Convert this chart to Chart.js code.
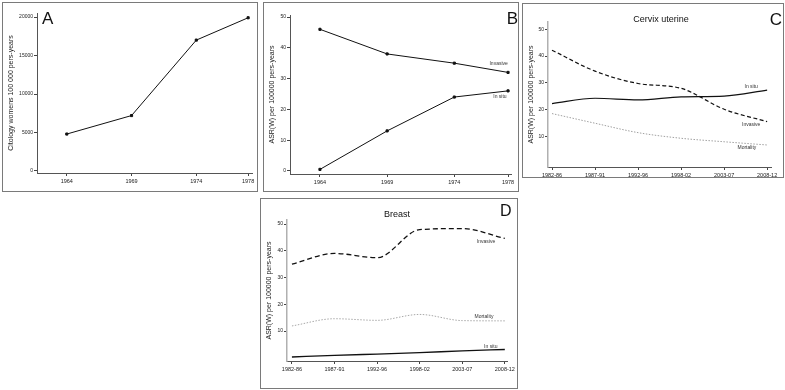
<!DOCTYPE html>
<html>
<head>
<title>Cytology and ASR trends</title>
<script src="https://cdn.jsdelivr.net/npm/chart.js"></script>
<style>
  body { margin: 0; background: #fff; width: 785px; height: 390px; overflow: hidden; }
  .panel { position: absolute; border: 1px solid #7a7a7a; }
  canvas { display: block; }
</style>
</head>
<body>
<div class="panel" style="left:2px;top:2px;width:254px;height:188px"><canvas id="chartA" width="254" height="188"></canvas></div>
<div class="panel" style="left:263px;top:2px;width:254px;height:188px"><canvas id="chartB" width="254" height="188"></canvas></div>
<div class="panel" style="left:522px;top:3px;width:260px;height:173px"><canvas id="chartC" width="260" height="173"></canvas></div>
<div class="panel" style="left:260px;top:198px;width:256px;height:189px"><canvas id="chartD" width="256" height="189"></canvas></div>

<script>
// data
const years = [1964, 1969, 1974, 1978];
const citology = [4800, 7200, 17000, 19900];
const citologyTicks = [0, 5000, 10000, 15000, 20000];

const bInvasive = [46, 38, 35, 32];
const bInSitu = [0.5, 13, 24, 26];
const bTicks = [0, 10, 20, 30, 40, 50];

const periods = ['1982-86', '1987-91', '1992-96', '1998-02', '2003-07', '2008-12'];
const cdTicks = [10, 20, 30, 40, 50];

const cInvasive = [42.2, 34.4, 29.8, 28.0, 20.2, 15.6];
const cInSitu = [22.3, 24.3, 23.7, 24.8, 25.1, 27.3];
const cMortality = [18.6, 15.0, 11.5, 9.4, 8.1, 6.9];

const dInvasive = [35.0, 39.0, 37.4, 47.9, 48.3, 44.6];
const dMortality = [11.9, 14.6, 14.0, 16.2, 13.9, 13.8];
const dInSitu = [0.3, 0.9, 1.4, 1.9, 2.6, 3.1];

const FONT = '"Liberation Sans", Arial, sans-serif';
Chart.defaults.font.family = FONT;
Chart.defaults.color = '#222';

function pts(xs, ys) {
    return ys.map((v, i) => ({ x: xs[i], y: v }));
}
const idx = periods.map((p, i) => i);

// draws panel letter, title and the labels next to the lines
function textPlugin(spec) {
    return {
        id: 'panelText',
        afterDraw(chart) {
            const ctx = chart.ctx;
            ctx.save();
            ctx.fillStyle = '#111';
            ctx.textBaseline = 'alphabetic';
            ctx.font = spec.letter.size + 'px ' + FONT;
            ctx.textAlign = spec.letter.align;
            ctx.fillText(spec.letter.text, spec.letter.x, spec.letter.y);
            if (spec.title) {
                ctx.font = '9px ' + FONT;
                ctx.textAlign = 'center';
                ctx.fillText(spec.title.text, spec.title.x, spec.title.y);
            }
            ctx.font = '5px ' + FONT;
            ctx.fillStyle = '#333';
            ctx.textAlign = 'center';
            ctx.textBaseline = 'middle';
            (spec.notes || []).forEach(n => {
                ctx.fillText(n.text, chart.scales.x.getPixelForValue(n.x), chart.scales.y.getPixelForValue(n.y));
            });
            ctx.restore();
        }
    };
}

function makeChart(id, spec) {
    return new Chart(document.getElementById(id), {
        type: 'line',
        data: { datasets: spec.datasets },
        options: {
            responsive: false,
            animation: false,
            layout: { padding: spec.padding },
            plugins: { legend: { display: false }, tooltip: { enabled: false } },
            scales: {
                x: {
                    type: 'linear',
                    min: spec.xMin,
                    max: spec.xMax,
                    afterBuildTicks: s => { s.ticks = spec.xTicks.map(v => ({ value: v })); },
                    afterFit: s => { s.height = spec.xHeight; },
                    grid: { drawOnChartArea: false, drawTicks: true, tickLength: 3, color: '#444' },
                    border: { color: '#555', width: 1 },
                    ticks: {
                        autoSkip: false, maxRotation: 0, padding: 2,
                        font: { size: 5.5 },
                        callback: spec.xLabel || (v => String(v))
                    }
                },
                y: {
                    type: 'linear',
                    min: spec.yMin,
                    max: spec.yMax,
                    afterBuildTicks: s => { s.ticks = spec.yTicks.map(v => ({ value: v })); },
                    afterFit: s => { s.width = spec.yWidth; },
                    grid: { drawOnChartArea: false, drawTicks: true, tickLength: 3, color: '#444' },
                    border: { color: spec.yAxisColor || '#555', width: spec.yAxisWidth || 1 },
                    ticks: { autoSkip: false, padding: 1, font: { size: 5 }, callback: v => String(v) },
                    title: { display: true, text: spec.yTitle, font: { size: 7 }, color: '#222', padding: { top: 4, bottom: 0 } }
                }
            }
        },
        plugins: [textPlugin(spec)]
    });
}

const solidMarked = {
    borderColor: '#111', backgroundColor: '#111', borderWidth: 1,
    pointStyle: 'rect', pointRadius: 1.5, tension: 0
};

makeChart('chartA', {
    datasets: [Object.assign({ data: pts(years, citology) }, solidMarked)],
    padding: { left: 0, right: 5, top: 10, bottom: 0 },
    xMin: 1961.7, xMax: 1978.3, xTicks: years, xHeight: 18,
    yMin: -260, yMax: 20520, yTicks: citologyTicks, yWidth: 34,
    yTitle: 'Citology womens 100 000 pers-years',
    letter: { text: 'A', size: 17, align: 'left', x: 39, y: 21 }
});

makeChart('chartB', {
    datasets: [
        Object.assign({ data: pts(years, bInvasive) }, solidMarked),
        Object.assign({ data: pts(years, bInSitu) }, solidMarked)
    ],
    padding: { left: 0, right: 7, top: 12, bottom: 0 },
    xMin: 1961.77, xMax: 1978.22, xTicks: years, xHeight: 17,
    yMin: -1, yMax: 50.65, yTicks: bTicks, yWidth: 26,
    yTitle: 'ASR(W) per 100000 pers-years',
    letter: { text: 'B', size: 17, align: 'right', x: 254, y: 21 },
    notes: [
        { text: 'Invasive', x: 1977.3, y: 35 },
        { text: 'In situ', x: 1977.4, y: 24 }
    ]
});

const curveOpts = { pointRadius: 0, cubicInterpolationMode: 'monotone' };

makeChart('chartC', {
    datasets: [
        Object.assign({ data: pts(idx, cInvasive), borderColor: '#111', borderWidth: 1.2, borderDash: [4, 2.5] }, curveOpts),
        Object.assign({ data: pts(idx, cInSitu), borderColor: '#111', borderWidth: 1.2 }, curveOpts),
        Object.assign({ data: pts(idx, cMortality), borderColor: '#a0a0a0', borderWidth: 1, borderDash: [1.5, 1.5] }, curveOpts)
    ],
    padding: { left: 0, right: 12, top: 18, bottom: 0 },
    xMin: -0.093, xMax: 5.09, xTicks: idx, xHeight: 10,
    xLabel: v => periods[v],
    yMin: -1.3, yMax: 52.7, yTicks: cdTicks, yWidth: 25,
    yAxisColor: '#b0b0b0', yAxisWidth: 1.5,
    yTitle: 'ASR(W) per 100000 pers-years',
    title: { text: 'Cervix uterine', x: 138, y: 18 },
    letter: { text: 'C', size: 17, align: 'right', x: 259, y: 21 },
    notes: [
        { text: 'In situ', x: 4.63, y: 28.5 },
        { text: 'Invasive', x: 4.63, y: 14.3 },
        { text: 'Mortality', x: 4.53, y: 5.8 }
    ]
});

makeChart('chartD', {
    datasets: [
        Object.assign({ data: pts(idx, dInvasive), borderColor: '#111', borderWidth: 1.3, borderDash: [5, 3] }, curveOpts),
        Object.assign({ data: pts(idx, dMortality), borderColor: '#a8a8a8', borderWidth: 1, borderDash: [1.5, 1.5] }, curveOpts),
        Object.assign({ data: pts(idx, dInSitu), borderColor: '#111', borderWidth: 1.3 }, curveOpts)
    ],
    padding: { left: 0, right: 7, top: 21, bottom: 0 },
    xMin: -0.116, xMax: 5.07, xTicks: idx, xHeight: 27,
    xLabel: v => periods[v],
    yMin: -1.2, yMax: 51.5, yTicks: cdTicks, yWidth: 26,
    yAxisColor: '#b0b0b0', yAxisWidth: 1.5,
    yTitle: 'ASR(W) per 100000 pers-years',
    title: { text: 'Breast', x: 136, y: 17.7 },
    letter: { text: 'D', size: 16, align: 'left', x: 239, y: 17 },
    notes: [
        { text: 'Invasive', x: 4.56, y: 43.3 },
        { text: 'Mortality', x: 4.51, y: 15.2 },
        { text: 'In situ', x: 4.67, y: 4.0 }
    ]
});
</script>
</body>
</html>
